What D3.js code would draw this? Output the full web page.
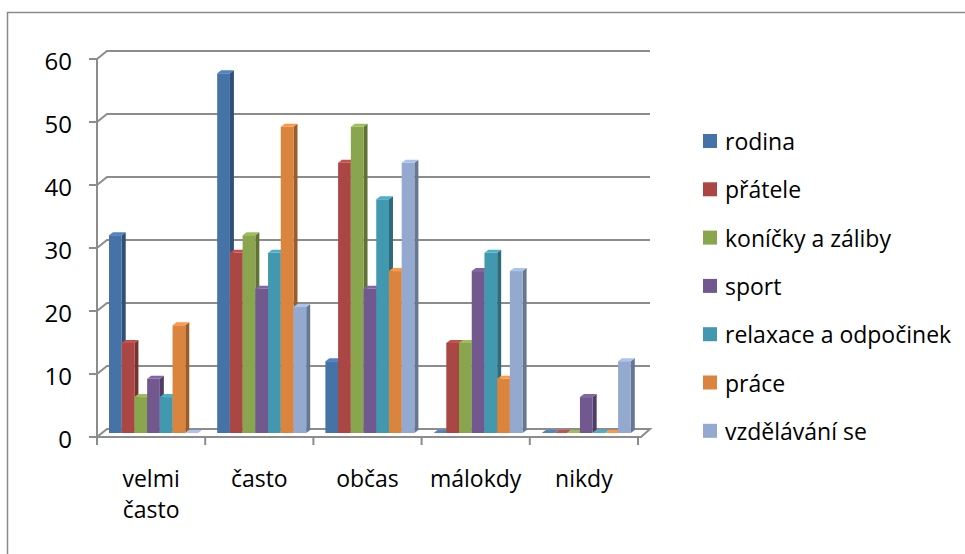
<!DOCTYPE html>
<html>
<head>
<meta charset="utf-8">
<script src="https://cdn.jsdelivr.net/npm/d3@7"></script>
<style>
  body { margin: 0; background: #fff; }
  text { font-family: "Open Sans", sans-serif; fill: #000; }
</style>
</head>
<body>
<div id="chart"></div>
<script>
// categories (x axis) and series
const categories = ["velmi často", "často", "občas", "málokdy", "nikdy"];
const seriesNames = ["rodina", "přátele", "koníčky a záliby", "sport", "relaxace a odpočinek", "práce", "vzdělávání se"];

// values per series, in category order
const rodina = [31.4, 57.1, 11.4, 0, 0];
const pratele = [14.3, 28.6, 42.9, 14.3, 0];
const konicky = [5.7, 31.4, 48.6, 14.3, 0];
const sport = [8.6, 22.9, 22.9, 25.7, 5.7];
const relaxace = [5.7, 28.6, 37.1, 28.6, 0];
const prace = [17.1, 48.6, 25.7, 8.6, 0];
const vzdelavani = [0, 20, 42.9, 25.7, 11.4];

const yTicks = [0, 10, 20, 30, 40, 50, 60];
const colors = ["#4572A7", "#AA4643", "#89A54E", "#71588F", "#4198AF", "#DB843D", "#93A9CF"];

const values = [rodina, pratele, konicky, sport, relaxace, prace, vzdelavani];

const W = 965, H = 554;
const svg = d3.select("#chart").append("svg")
  .attr("width", W).attr("height", H);

// chart border
svg.append("rect")
  .attr("x", 7.5).attr("y", 12.5)
  .attr("width", W + 10).attr("height", H + 10)
  .attr("fill", "none").attr("stroke", "#8a8a8a").attr("stroke-width", 1.5);

// scales
const x0 = d3.scaleBand().domain(categories).range([97, 638]);
const x1 = d3.scaleBand().domain(seriesNames).range([12, 101]);
const y = d3.scaleLinear().domain([0, 60]).range([433, 55]);

// 3d offsets: wall depth and bar depth
const wallDx = 10, wallDy = 8;
const barDx = 4, barDy = 3;
const yBack = v => y(v) - wallDy / 2;
const yFront = v => y(v) + wallDy / 2;
const xLeft = x0.range()[0], xRight = x0.range()[1];

const grid = svg.append("g").attr("class", "grid")
  .attr("stroke", "#8c8c8c").attr("stroke-width", 2).attr("fill", "none");

// back wall gridlines + left wall diagonals
grid.selectAll(".hline").data(yTicks.filter(d => d > 0)).enter().append("path")
  .attr("class", "hline")
  .attr("d", d => `M${xLeft},${yFront(d)}L${xLeft + wallDx},${yBack(d)}L${xRight + 12},${yBack(d)}`);

// left axis line
grid.append("line")
  .attr("x1", xLeft).attr("x2", xLeft)
  .attr("y1", yFront(60)).attr("y2", yFront(0));

// y ticks
grid.selectAll(".ytick").data(yTicks).enter().append("line")
  .attr("x1", xLeft - 8).attr("x2", xLeft)
  .attr("y1", d => yFront(d)).attr("y2", d => yFront(d));

// floor
grid.append("path")
  .attr("d", `M${xLeft},${yFront(0)}L${xRight + 3},${yFront(0)}L${xRight + 12},${yBack(0)}L${xLeft + wallDx},${yBack(0)}Z`);

// category ticks
const catEdges = categories.map(c => x0(c)).concat([xRight]);
grid.selectAll(".xtick").data(catEdges).enter().append("line")
  .attr("x1", d => d).attr("x2", d => d)
  .attr("y1", yFront(0)).attr("y2", yFront(0) + 8);

// y labels
svg.append("g").selectAll("text").data(yTicks).enter().append("text")
  .attr("x", 72).attr("y", d => yFront(d) + 1)
  .attr("text-anchor", "end").attr("dominant-baseline", "central")
  .style("font-size", "24px")
  .text(d => d);

// category labels (wrap "velmi často")
const catLabels = svg.append("g").selectAll("text").data(categories).enter().append("text")
  .attr("x", d => x0(d) + x0.bandwidth() / 2)
  .attr("y", 487)
  .attr("text-anchor", "middle")
  .style("font-size", "23px");
catLabels.each(function (d) {
  const words = d === "velmi často" ? d.split(" ") : [d];
  d3.select(this).selectAll("tspan").data(words).enter().append("tspan")
    .attr("x", x0(d) + x0.bandwidth() / 2)
    .attr("dy", (w, i) => i === 0 ? 0 : 31)
    .text(w => w);
});

// bars, drawn left to right so the next bar covers the side of the previous one
const bars = [];
categories.forEach((c, ci) => {
  seriesNames.forEach((s, si) => {
    bars.push({ cat: c, name: s, value: values[si][ci], color: colors[si] });
  });
});

const barG = svg.append("g").selectAll("g").data(bars).enter().append("g");
barG.each(function (d) {
  const g = d3.select(this);
  const bx = x0(d.cat) + x1(d.name);
  const bw = x1.bandwidth();
  const top = y(d.value), base = y(0);
  const c = d3.color(d.color);
  // side face
  g.append("path")
    .attr("d", `M${bx + bw},${top}L${bx + bw + barDx},${top - barDy}L${bx + bw + barDx},${base - barDy}L${bx + bw},${base}Z`)
    .attr("fill", c.darker(1));
  // front face
  g.append("rect")
    .attr("x", bx).attr("y", top)
    .attr("width", bw).attr("height", base - top)
    .attr("fill", c);
  // top face
  g.append("path")
    .attr("d", `M${bx},${top}L${bx + barDx},${top - barDy}L${bx + bw + barDx},${top - barDy}L${bx + bw},${top}Z`)
    .attr("fill", c.brighter(0.4));
});

// legend
const legend = svg.append("g").selectAll("g").data(seriesNames).enter().append("g")
  .attr("transform", (d, i) => `translate(703, ${150 + i * 48.3})`);
legend.append("rect")
  .attr("x", 0).attr("y", -16).attr("width", 14).attr("height", 14)
  .attr("fill", (d, i) => colors[i]);
legend.append("text")
  .attr("x", 22).attr("y", 0)
  .style("font-size", "23px")
  .text(d => d);
</script>
</body>
</html>
